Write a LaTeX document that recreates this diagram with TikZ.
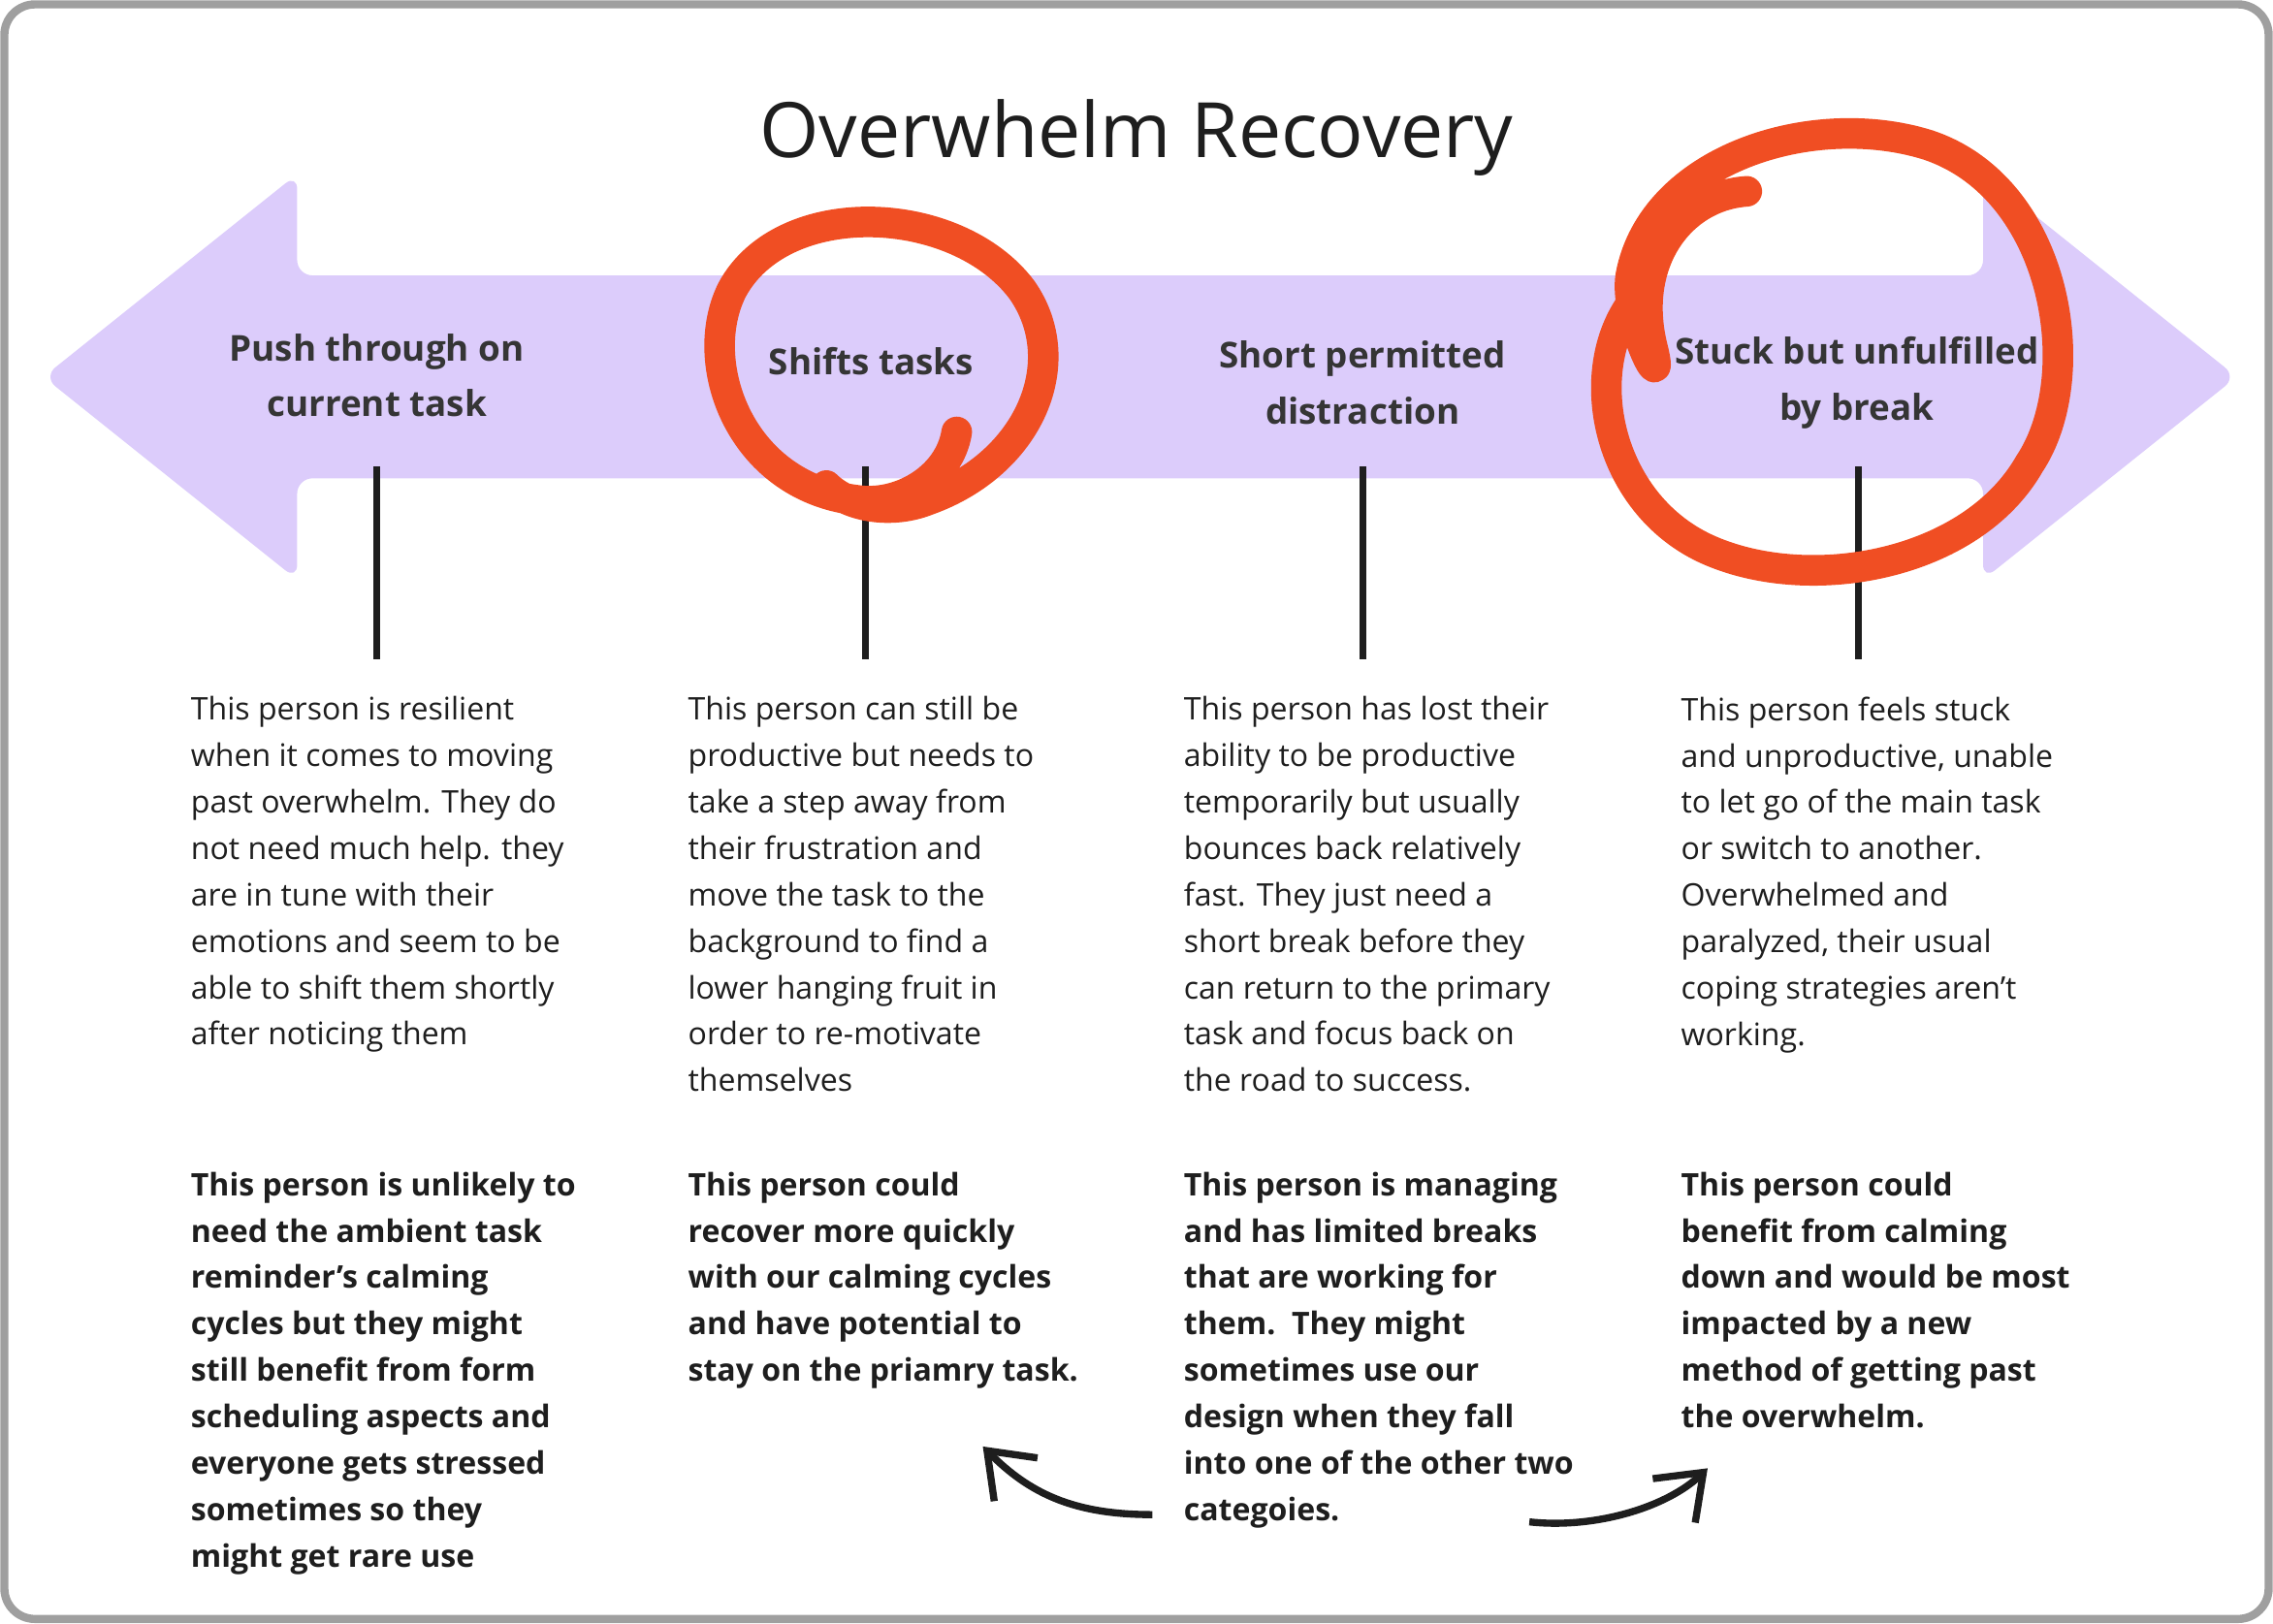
\documentclass[tikz,border=0pt]{standalone}
\usepackage{fontspec}
\setmainfont{Open Sans}
\usetikzlibrary{arrows.meta}
\definecolor{lav}{HTML}{DCCCFB}
\definecolor{org}{HTML}{F04E23}
\definecolor{ink}{HTML}{1E1E1E}
\begin{document}
\begin{tikzpicture}[x=0.01cm,y=-0.01cm,
  head/.style={font=\fontsize{7}{11}\selectfont\bfseries,align=center,text=ink!90},
  body/.style={anchor=north west,align=left,font=\fontsize{6.1}{9.1}\selectfont,text=ink,inner sep=0pt},
  bbody/.style={body,font=\fontsize{6.1}{9.1}\selectfont\bfseries},
  stem/.style={line width=1.3pt,ink},
  circ/.style={org,line width=6pt,line cap=round,line join=round}]
\useasboundingbox (0,0) rectangle (1568,1120);
\draw[gray!75,line width=1.6pt,rounded corners=6pt] (3,3) rectangle (1565,1117);
\node[font=\fontsize{15}{18}\selectfont,text=ink] (title) at (784,95) {Overwhelm Recovery};
\fill[lav,rounded corners=3pt] (30,260) -- (205,120) -- (205,190) -- (1368,190) -- (1368,120) -- (1543,260) -- (1368,400) -- (1368,330) -- (205,330) -- (205,400) -- cycle;
\node[head] (h1) at (260,259) {Push through on\\current task};
\node[head] (h2) at (601,249) {Shifts tasks};
\node[head] (h3) at (940,264) {Short permitted\\distraction};
\node[head] (h4) at (1281,264) {Stuck but unfulfilled\\by break};
\foreach \x/\n in {260/1,597/2,940/3,1282/4}{
  \coordinate (t\n) at (\x,322); \coordinate (b\n) at (\x,455);
  \draw[stem] (t\n) -- (b\n);}
\node[body] (p1) at (131,480) {This person is resilient\\when it comes to moving\\past overwhelm. They do\\not need much help. they\\are in tune with their\\emotions and seem to be\\able to shift them shortly\\after noticing them};
\node[body] (p2) at (474,480) {This person can still be\\productive but needs to\\take a step away from\\their frustration and\\move the task to the\\background to find a\\lower hanging fruit in\\order to re-motivate\\themselves};
\node[body] (p3) at (816,480) {This person has lost their\\ability to be productive\\temporarily but usually\\bounces back relatively\\fast. They just need a\\short break before they\\can return to the primary\\task and focus back on\\the road to success.};
\node[body] (p4) at (1159,480) {This person feels stuck\\and unproductive, unable\\to let go of the main task\\or switch to another.\\Overwhelmed and\\paralyzed, their usual\\coping strategies aren’t\\working.};
\node[bbody] (q1) at (131,808) {This person is unlikely to\\need the ambient task\\reminder’s calming\\cycles but they might\\still benefit from form\\scheduling aspects and\\everyone gets stressed\\sometimes so they\\might get rare use};
\node[bbody] (q2) at (474,808) {This person could\\recover more quickly\\with our calming cycles\\and have potential to\\stay on the priamry task.};
\node[bbody] (q3) at (816,808) {This person is managing\\and has limited breaks\\that are working for\\them.\ \ They might\\sometimes use our\\design when they fall\\into one of the other two\\categoies.};
\node[bbody] (q4) at (1159,808) {This person could\\benefit from calming\\down and would be most\\impacted by a new\\method of getting past\\the overwhelm.};
% orange circles
\draw[circ] (660,298) .. controls (655,330) and (620,350) .. (590,345)
  .. controls (510,335) and (480,250) .. (505,200)
  .. controls (540,135) and (660,140) .. (705,200)
  .. controls (740,250) and (710,320) .. (640,345)
  .. controls (615,355) and (585,350) .. (570,335);
\draw[circ] (1205,132) .. controls (1160,135) and (1125,180) .. (1140,240)
  .. controls (1150,280) and (1120,220) .. (1125,190)
  .. controls (1140,110) and (1250,75) .. (1330,100)
  .. controls (1420,130) and (1440,260) .. (1400,320)
  .. controls (1360,390) and (1250,410) .. (1180,380)
  .. controls (1110,350) and (1090,260) .. (1125,210);
% curved arrows
\coordinate (a1) at (795,1045); \coordinate (a2) at (678,998);
\coordinate (a3) at (1055,1050); \coordinate (a4) at (1178,1013);
\draw[line width=1.4pt,ink,-{Straight Barb[length=8pt,width=12pt]}] (a1) .. controls (740,1045) and (710,1030) .. (a2);
\draw[line width=1.4pt,ink,-{Straight Barb[length=8pt,width=12pt]}] (a3) .. controls (1100,1055) and (1150,1040) .. (a4);
\end{tikzpicture}
\end{document}
